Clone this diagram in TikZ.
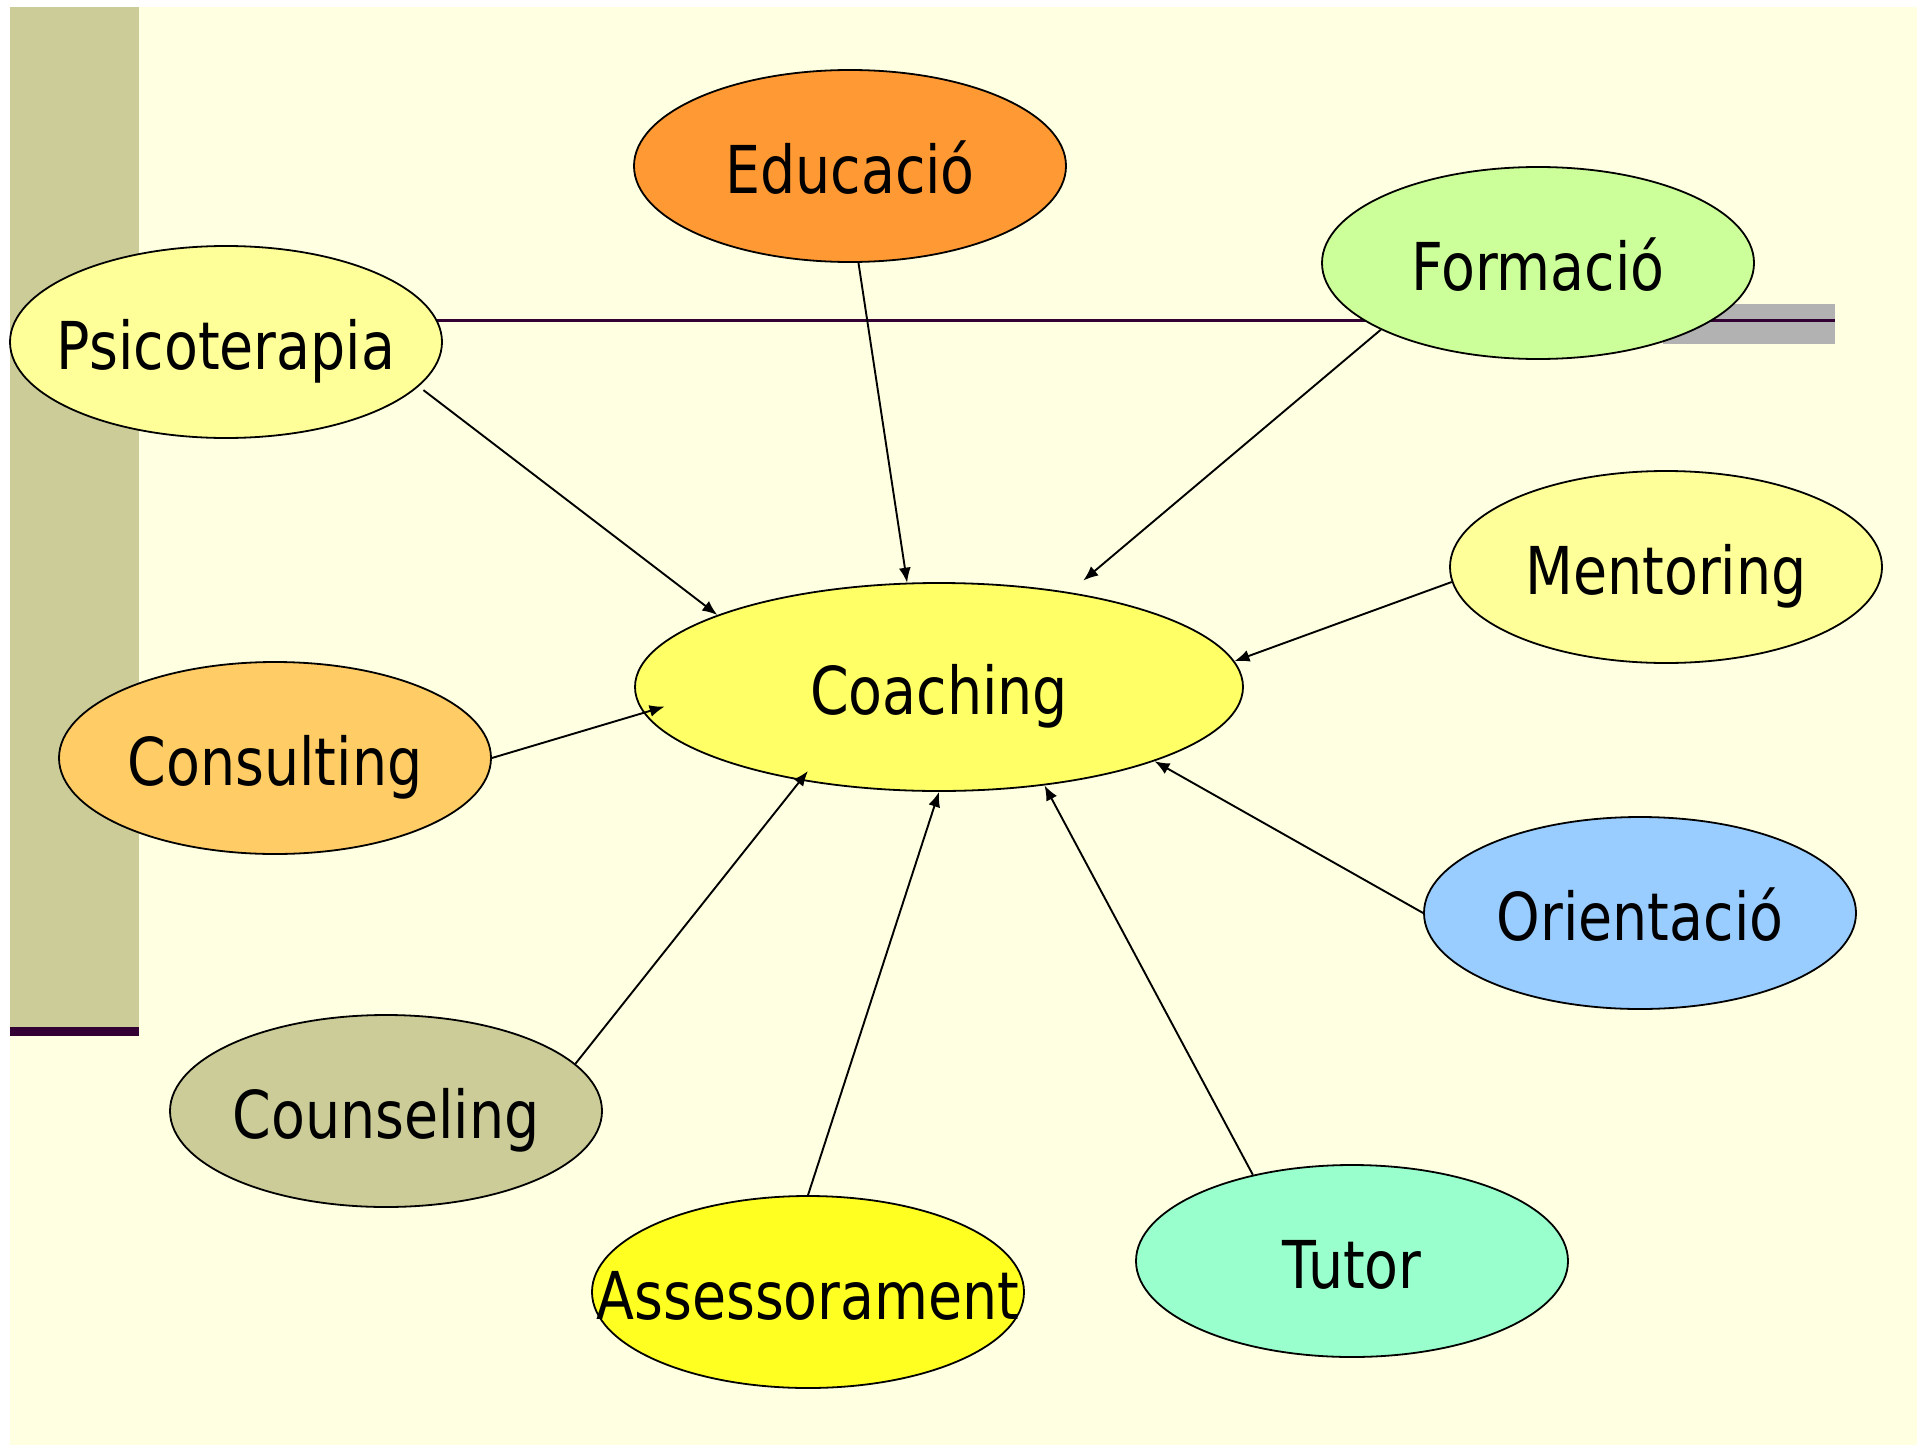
\documentclass[tikz,border=0pt]{standalone}
\usepackage{fontspec}
\setmainfont{DejaVu Sans}[FakeStretch=0.84]
\usetikzlibrary{shapes.geometric,arrows.meta}

\definecolor{slidebg}{HTML}{FFFFE1}
\definecolor{barolive}{HTML}{CCCC99}
\definecolor{barplum}{HTML}{330033}
\definecolor{bargray}{HTML}{B2B2B2}
\definecolor{psifill}{HTML}{FFFF99}
\definecolor{edufill}{HTML}{FF9933}
\definecolor{formfill}{HTML}{CCFF99}
\definecolor{coachfill}{HTML}{FFFF66}
\definecolor{consfill}{HTML}{FFCC66}
\definecolor{orientfill}{HTML}{99CCFF}
\definecolor{counsfill}{HTML}{CCCC99}
\definecolor{assesfill}{HTML}{FFFF22}
\definecolor{tutorfill}{HTML}{99FFCC}

\tikzset{
  bubble/.style={ellipse, draw=black, line width=1.8pt, minimum width=432pt, minimum height=192pt,
    inner sep=0pt, text height=66pt, text depth=12pt, font=\fontsize{66}{78}\selectfont},
  feed/.style={-{Latex[length=15pt,width=12pt]}, line width=1.9pt},
}
\newcommand{\bubtext}[1]{\makebox[0pt]{#1}}

\begin{document}
\begin{tikzpicture}[x=1pt,y=-1pt]
		%%%%% BACKGROUND %%%%%
		\useasboundingbox (0,0) rectangle (1917,1445);
		\fill[white] (0,0) rectangle (1917,1445);
		\fill[slidebg] (10,7) rectangle (1917,1445);
		
		\fill[barolive] (10,7) rectangle (139,1027);
		\fill[barplum] (10,1027) rectangle (139,1036);
		
		\fill[bargray] (1663,304) rectangle (1835,344);
		\draw[barplum, line width=3pt] (436,320) -- (1835,320);
		
		%%%%% BUBBLES %%%%%
		\node[bubble, fill=psifill] (psi) at (226,342) {\bubtext{Psicoterapia}};
		\node[bubble, fill=edufill] (edu) at (850,166) {\bubtext{Educació}};
		\node[bubble, fill=formfill] (form) at (1538,263) {\bubtext{Formació}};
		\node[bubble, fill=psifill] (ment) at (1666,567) {\bubtext{Mentoring}};
		\node[bubble, fill=coachfill, minimum width=608pt, minimum height=208pt] (coach) at (939,687) {\bubtext{Coaching}};
		\node[bubble, fill=consfill] (cons) at (275,758) {\bubtext{Consulting}};
		\node[bubble, fill=orientfill] (orient) at (1640,913) {\bubtext{Orientació}};
		\node[bubble, fill=counsfill] (couns) at (386,1111) {\bubtext{Counseling}};
		\node[bubble, fill=assesfill] (asses) at (808,1292) {\bubtext{Assessorament}};
		\node[bubble, fill=tutorfill] (tutor) at (1352,1261) {\bubtext{Tutor}};
		
		%%%%% ARROWS %%%%%
		\draw[feed, shorten <=6pt] (psi.-13) -- (coach.162);
		\draw[feed] (edu.275) -- (coach.107);
		\draw[feed, shorten >=18pt] (form.203) -- (coach.36);
		\draw[feed] (ment.184) -- (coach.5);
		\draw[feed, shorten >=-22pt] (cons.0) -- (coach.185);
		\draw[feed, shorten >=-12pt] (couns.14) -- (coach.214);
		\draw[feed] (asses.90) -- (coach.270);
		\draw[feed] (tutor.139) -- (coach.317);
		\draw[feed] (orient.180) -- (coach.341);
		
	\end{tikzpicture}
\end{document}
